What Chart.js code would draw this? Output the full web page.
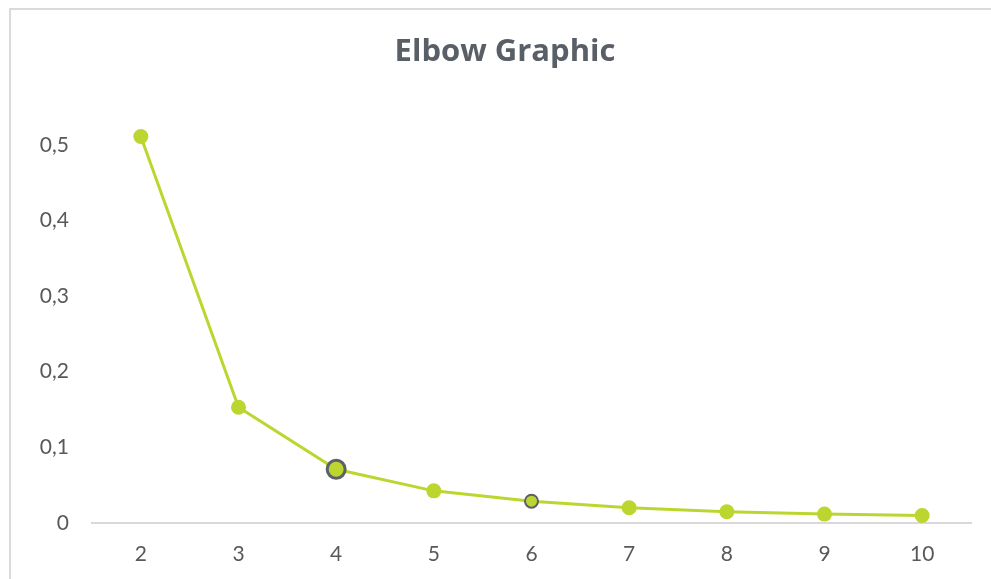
<!DOCTYPE html>
<html>
<head>
<meta charset="utf-8">
<title>Elbow Graphic</title>
<script src="https://cdn.jsdelivr.net/npm/chart.js@4/dist/chart.umd.min.js"></script>
<style>
  html, body { margin: 0; padding: 0; background: #ffffff; }
  #wrap { position: relative; width: 991px; height: 579px; overflow: hidden; }
  #frame {
    position: absolute; left: 9px; top: 8px; width: 1000px; height: 600px;
    border-top: 2px solid #dadada; border-left: 2px solid #dadada;
    box-sizing: border-box;
  }
  canvas { position: absolute; left: 0; top: 0; }
</style>
</head>
<body>
<div id="wrap">
  <div id="frame"></div>
  <canvas id="chart" width="991" height="579"></canvas>
</div>
<script>
// Number of clusters k and the corresponding score
const clusters = ['2', '3', '4', '5', '6', '7', '8', '9', '10'];
const scores = [0.511, 0.153, 0.071, 0.0425, 0.0288, 0.0202, 0.0149, 0.0118, 0.0100];
const yTicks = [0, 0.1, 0.2, 0.3, 0.4, 0.5];
const chartTitle = 'Elbow Graphic';

// Clusters drawn with an outlined marker
const elbowK = '4';
const secondaryK = '6';

const lineColor = '#bdd62f';
const outlineColor = '#5b6167';
const textColor = '#595959';
const fontFamily = 'Lato, "Open Sans", sans-serif';
const titleFont = 'bold 31px "Open Sans", Lato, sans-serif';

// Title centred over the framed chart box rather than the plot area
const titlePlugin = {
  id: 'boxTitle',
  afterDraw(chart) {
    const c = chart.ctx;
    c.save();
    c.font = titleFont;
    c.fillStyle = '#595f66';
    c.textAlign = 'center';
    c.textBaseline = 'middle';
    c.fillText(chartTitle, 505, 52);
    c.restore();
  }
};

const ctx = document.getElementById('chart').getContext('2d');
new Chart(ctx, {
  type: 'line',
  data: {
    labels: clusters,
    datasets: [{
      data: scores,
      borderColor: lineColor,
      backgroundColor: lineColor,
      borderWidth: 3,
      tension: 0,
      pointBackgroundColor: lineColor,
      pointRadius: c => {
        const k = clusters[c.dataIndex];
        if (k === elbowK) return 9;
        if (k === secondaryK) return 6.5;
        return 7.5;
      },
      pointBorderWidth: c => {
        const k = clusters[c.dataIndex];
        if (k === elbowK) return 3;
        if (k === secondaryK) return 2;
        return 0;
      },
      pointBorderColor: c => {
        const k = clusters[c.dataIndex];
        return (k === elbowK || k === secondaryK) ? outlineColor : lineColor;
      },
      pointHoverRadius: 8
    }]
  },
  plugins: [titlePlugin],
  options: {
    responsive: false,
    animation: false,
    events: [],
    layout: { padding: { left: 0, right: 20, top: 107, bottom: 0 } },
    plugins: {
      legend: { display: false },
      tooltip: { enabled: false },
      title: { display: false }
    },
    scales: {
      x: {
        offset: true,
        grid: { display: false, drawTicks: false },
        border: { display: true, color: '#d9d9d9', width: 2 },
        ticks: {
          color: textColor,
          padding: 19,
          font: { family: fontFamily, size: 21 }
        },
        afterFit: s => { s.height = 56; }
      },
      y: {
        min: 0,
        max: 0.55,
        grid: { display: false, drawTicks: false },
        border: { display: false },
        afterBuildTicks: s => { s.ticks = yTicks.map(v => ({ value: v })); },
        ticks: {
          color: textColor,
          padding: 23,
          font: { family: fontFamily, size: 21 },
          callback: v => String(Math.round(v * 10) / 10).replace('.', ',')
        },
        afterFit: s => { s.width = 92; }
      }
    }
  }
});
</script>
</body>
</html>
